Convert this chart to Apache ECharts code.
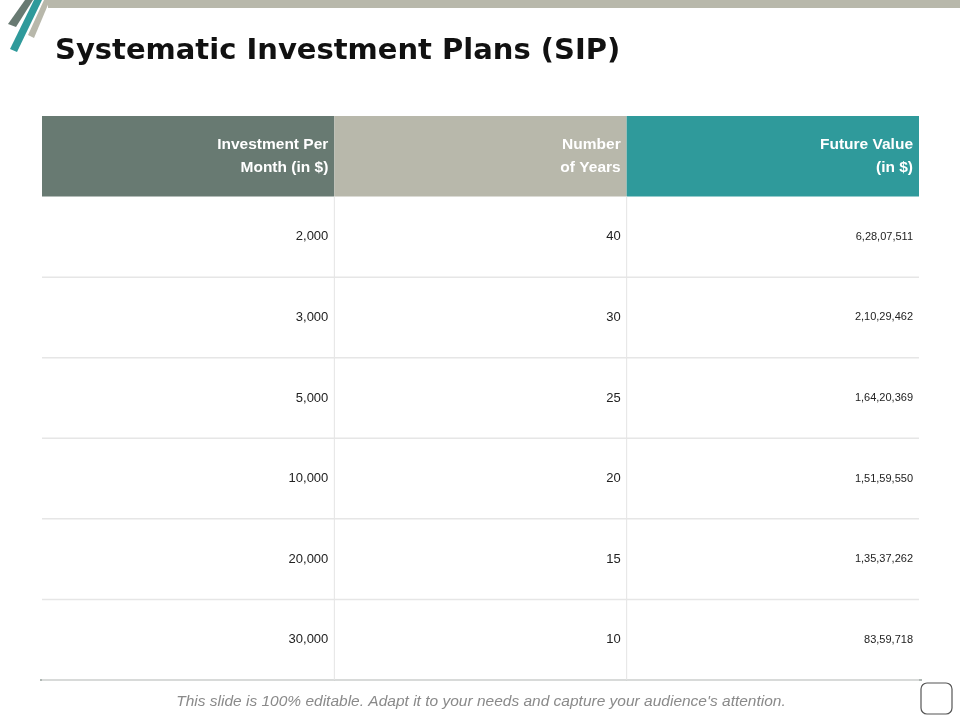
<!DOCTYPE html>
<html><head><meta charset="utf-8">
<script src="https://cdn.jsdelivr.net/npm/echarts@6/dist/echarts.min.js"></script>
<style>html,body{margin:0;padding:0;background:#fff}#c{width:960px;height:720px}</style>
</head><body><div id="c"></div>
<script>
const headers = ['Investment Per\nMonth (in $)', 'Number\nof Years', 'Future Value\n(in $)'];
const investment = ['2,000', '3,000', '5,000', '10,000', '20,000', '30,000'];
const years = ['40', '30', '25', '20', '15', '10'];
const futureValue = ['6,28,07,511', '2,10,29,462', '1,64,20,369', '1,51,59,550', '1,35,37,262', '83,59,718'];
const headerColors = ['#687a72', '#b8b8ab', '#2f9a9b'];

const data = [];
headers.forEach((h, c) => data.push([c, 0, h, 'h']));
investment.forEach((v, r) => data.push([0, r + 1, v, 'b']));
years.forEach((v, r) => data.push([1, r + 1, v, 'b']));
futureValue.forEach((v, r) => data.push([2, r + 1, v, 'f']));

const chart = echarts.init(document.getElementById('c'));
chart.setOption({
  animation: false,
  grid: { left: 42, right: 41, top: 116, bottom: 40 },
  xAxis: { type: 'value', min: 0, max: 3, show: false },
  yAxis: { type: 'value', min: 0, max: 7, inverse: true, show: false },
  title: { text: 'Systematic Investment Plans (SIP)', left: 50, top: 32,
    textStyle: { fontFamily: 'DejaVu Sans', fontWeight: 'bold', fontSize: 29, color: '#111' } },
  graphic: [
    { type: 'rect', shape: { x: 48, y: 0, width: 912, height: 8 }, style: { fill: '#b8b8ab' } },
    { type: 'polygon', shape: { points: [[25,0],[33,0],[16,27],[8,24]] }, style: { fill: '#687a72' } },
    { type: 'polygon', shape: { points: [[34,0],[42,0],[17,52],[10,49]] }, style: { fill: '#2f9a9b' } },
    { type: 'polygon', shape: { points: [[44,0],[50,0],[34,38],[28,35]] }, style: { fill: '#b8b8ab' } },
    { type: 'line', shape: { x1: 40, y1: 680, x2: 922, y2: 680 }, style: { stroke: '#b0b8b4', lineWidth: 2 } },
    { type: 'text', style: { x: 481, y: 702, text: "This slide is 100% editable. Adapt it to your needs and capture your audience's attention.",
      align: 'center', verticalAlign: 'middle', fontFamily: 'Liberation Sans', fontStyle: 'italic', fontSize: 15.5, fill: '#8a8a8a' } },
    { type: 'rect', shape: { x: 921, y: 683, width: 31, height: 31, r: 6 }, style: { fill: 'none', stroke: '#555', lineWidth: 1.2 } }
  ],
  series: [{
    type: 'custom',
    coordinateSystem: 'cartesian2d',
    data: data,
    renderItem: function (params, api) {
      const c = api.value(0), r = api.value(1);
      const item = data[params.dataIndex];
      const p0 = api.coord([c, r]), p1 = api.coord([c + 1, r + 1]);
      const w = p1[0] - p0[0], h = p1[1] - p0[1];
      const kind = item[3];
      const children = [];
      if (kind === 'h') {
        children.push({ type: 'rect', shape: { x: p0[0], y: p0[1], width: w, height: h }, style: { fill: headerColors[c] } });
      } else {
        children.push({ type: 'line', shape: { x1: p0[0], y1: p1[1], x2: p1[0], y2: p1[1] }, style: { stroke: '#e6e6e6', lineWidth: 1.5 } });
        if (c > 0) children.push({ type: 'line', shape: { x1: p0[0], y1: p0[1], x2: p0[0], y2: p1[1] }, style: { stroke: '#e4e4e4', lineWidth: 1 } });
      }
      children.push({ type: 'text', style: {
        x: p1[0] - 6, y: p0[1] + h / 2, text: item[2], align: 'right', verticalAlign: 'middle',
        fontFamily: 'Liberation Sans', fontSize: kind === 'h' ? 15.5 : (kind === 'f' ? 11 : 13),
        fontWeight: kind === 'h' ? 'bold' : 'normal', lineHeight: 23,
        fill: kind === 'h' ? '#fff' : '#222' } });
      return { type: 'group', children: children };
    }
  }]
});
</script></body></html>
